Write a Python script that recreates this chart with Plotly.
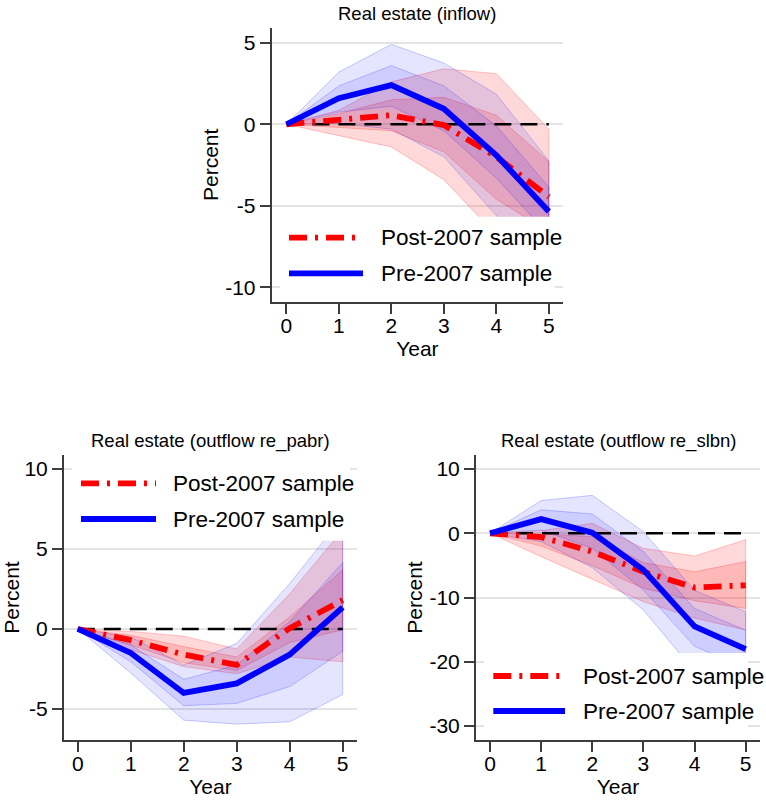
import plotly.graph_objects as go

# ---------------- data ----------------
years = [0, 1, 2, 3, 4, 5]
x_ticktext = ["0", "1", "2", "3", "4", "5"]

titles = ["Real estate (inflow)", "Real estate (outflow re_pabr)", "Real estate (outflow re_slbn)"]
series_names = ["Post-2007 sample", "Pre-2007 sample"]

# Panel 1: inflow
in_post_mean = [0, 0.3, 0.55, -0.05, -2.0, -4.45]
in_post_hi68 = [0, 0.65, 1.5, 1.65, 0.55, -2.3]
in_post_lo68 = [0, -0.2, -0.4, -1.7, -4.6, -6.6]
in_post_hi90 = [0, 0.85, 2.6, 3.4, 3.1, -0.3]
in_post_lo90 = [0, -0.7, -1.4, -3.4, -6.8, -8.6]
in_pre_mean = [0, 1.6, 2.4, 0.95, -1.9, -5.35]
in_pre_hi68 = [0, 2.35, 3.6, 2.35, -0.1, -3.85]
in_pre_lo68 = [0, 0.75, 1.1, -0.4, -3.3, -6.8]
in_pre_hi90 = [0, 3.2, 4.9, 3.75, 1.85, -2.25]
in_pre_lo90 = [0, 0.05, -0.3, -2.0, -5.6, -8.3]
in_yticks = [5, 0, -5, -10]
in_yticktext = ["5", "0", "-5", "-10"]

# Panel 2: outflow re_pabr
pa_post_mean = [0, -0.7, -1.6, -2.25, 0.05, 1.8]
pa_post_hi68 = [0, -0.4, -1.1, -1.75, 0.75, 3.7]
pa_post_lo68 = [0, -1.0, -2.1, -2.6, -0.85, -0.05]
pa_post_hi90 = [0, -0.15, -0.45, -1.25, 2.2, 6.2]
pa_post_lo90 = [0, -1.3, -2.35, -2.8, -1.75, -2.05]
pa_pre_mean = [0, -1.5, -4.0, -3.4, -1.6, 1.35]
pa_pre_hi68 = [0, -1.0, -3.15, -2.25, 0.45, 4.15]
pa_pre_lo68 = [0, -2.05, -4.8, -4.65, -3.6, -1.4]
pa_pre_hi90 = [0, -0.5, -2.25, -0.9, 2.85, 7.0]
pa_pre_lo90 = [0, -2.75, -5.7, -5.95, -5.8, -4.1]
pa_yticks = [10, 5, 0, -5]
pa_yticktext = ["10", "5", "0", "-5"]

# Panel 3: outflow re_slbn
sl_post_mean = [0, -0.6, -2.85, -6.0, -8.45, -8.1]
sl_post_hi68 = [0, -0.1, -0.5, -4.55, -6.0, -4.4]
sl_post_lo68 = [0, -2.0, -5.05, -8.55, -10.5, -11.7]
sl_post_hi90 = [0, 0.4, 1.55, -2.35, -3.55, -1.0]
sl_post_lo90 = [0, -3.65, -7.15, -10.65, -13.2, -15.05]
sl_pre_mean = [0, 2.2, 0.1, -5.7, -14.5, -18.05]
sl_pre_hi68 = [0, 3.65, 3.0, -2.85, -11.7, -15.1]
sl_pre_lo68 = [0, 0.5, -2.35, -8.85, -17.6, -21.0]
sl_pre_hi90 = [0, 5.1, 5.9, 0.25, -8.9, -12.2]
sl_pre_lo90 = [0, -1.3, -5.35, -11.95, -21.5, -24.0]
sl_yticks = [10, 0, -10, -20, -30]
sl_yticktext = ["10", "0", "-10", "-20", "-30"]

# ---------------- layout helpers ----------------
W, H = 766, 802
FONT = "Liberation Sans, Arial, Helvetica, sans-serif"


def fx(p):
    return p / W


def fy(p):
    return 1 - p / H


panels = [
    dict(title=titles[0], xpx=(271.7, 563), ypx=(28, 301.7), xr=(-0.28, 5.27), yr=(-10.88, 5.9),
         yt=in_yticks, ytt=in_yticktext, title_y=13,
         post=(in_post_mean, in_post_lo68, in_post_hi68, in_post_lo90, in_post_hi90),
         pre=(in_pre_mean, in_pre_lo68, in_pre_hi68, in_pre_lo90, in_pre_hi90),
         leg=dict(box=(280, 555, 216.7, 298), ys=(237.7, 273.3), sx=(289, 363), tx=379)),
    dict(title=titles[1], xpx=(64, 357), ypx=(455, 740), xr=(-0.26, 5.27), yr=(-6.94, 10.875),
         yt=pa_yticks, ytt=pa_yticktext, title_y=440.7,
         post=(pa_post_mean, pa_post_lo68, pa_post_hi68, pa_post_lo90, pa_post_hi90),
         pre=(pa_pre_mean, pa_pre_lo68, pa_pre_hi68, pa_pre_lo90, pa_pre_hi90),
         leg=dict(box=(72, 350, 458, 540.7), ys=(483.3, 519), sx=(81, 156), tx=171)),
    dict(title=titles[2], xpx=(476, 760), ypx=(455, 740), xr=(-0.274, 5.28), yr=(-32.18, 12.18),
         yt=sl_yticks, ytt=sl_yticktext, title_y=440.7,
         post=(sl_post_mean, sl_post_lo68, sl_post_hi68, sl_post_lo90, sl_post_hi90),
         pre=(sl_pre_mean, sl_pre_lo68, sl_pre_hi68, sl_pre_lo90, sl_pre_hi90),
         leg=dict(box=(484, 748, 653, 738), ys=(676, 711), sx=(493.3, 565), tx=581)),
]

RED = "#FF0000"
BLUE = "#0000FF"
RED_DASH = "18px,8px,3px,8px"
styles = {
    "post": dict(color=RED, fill="rgba(255,0,0,0.15)", edge="rgba(255,0,0,0.22)", dash=RED_DASH),
    "pre": dict(color=BLUE, fill="rgba(0,0,255,0.10)", edge="rgba(0,0,255,0.20)", dash="solid"),
}
AXIS_COLOR = "#3c3c3c"
GRID_COLOR = "#e4e4e4"

fig = go.Figure()
shapes = []
annotations = []
layout = {}

for i, p in enumerate(panels):
    sfx = "" if i == 0 else str(i + 1)
    xa, ya = "x" + sfx, "y" + sfx

    # bands
    for key in ("post", "pre"):
        mean, lo68, hi68, lo90, hi90 = p[key]
        st = styles[key]
        for lo, hi in ((lo90, hi90), (lo68, hi68)):
            fig.add_trace(go.Scatter(
                x=years + years[::-1], y=hi + lo[::-1], xaxis=xa, yaxis=ya,
                fill="toself", fillcolor=st["fill"], mode="lines",
                line=dict(color=st["edge"], width=1), hoverinfo="skip", showlegend=False))

    # zero reference line
    fig.add_trace(go.Scatter(
        x=[years[0], years[-1]], y=[0, 0], xaxis=xa, yaxis=ya, mode="lines",
        line=dict(color="black", width=2.3, dash="17px,9px"), hoverinfo="skip", showlegend=False))

    # point estimates
    for key, nm in (("post", series_names[0]), ("pre", series_names[1])):
        st = styles[key]
        fig.add_trace(go.Scatter(
            x=years, y=p[key][0], xaxis=xa, yaxis=ya, mode="lines", name=nm,
            line=dict(color=st["color"], width=5.8, dash=st["dash"]), showlegend=False))

    layout["xaxis" + sfx] = dict(
        domain=[fx(p["xpx"][0]), fx(p["xpx"][1])], range=list(p["xr"]), anchor=ya,
        tickvals=years, ticktext=x_ticktext, showline=True, linecolor=AXIS_COLOR, linewidth=2,
        ticks="outside", ticklen=10, tickwidth=2, tickcolor=AXIS_COLOR, showgrid=False,
        zeroline=False, tickfont=dict(size=21, color="black", family=FONT), ticklabelstandoff=-6,
        title=dict(text="Year", font=dict(size=21, color="black", family=FONT), standoff=4))
    layout["yaxis" + sfx] = dict(
        domain=[fy(p["ypx"][1]), fy(p["ypx"][0])], range=list(p["yr"]), anchor=xa,
        tickvals=p["yt"], ticktext=p["ytt"], showline=True, linecolor=AXIS_COLOR, linewidth=2,
        ticks="outside", ticklen=10, tickwidth=2, tickcolor=AXIS_COLOR, showgrid=True,
        gridcolor=GRID_COLOR, gridwidth=1.5, zeroline=False,
        tickfont=dict(size=21, color="black", family=FONT),
        title=dict(text="Percent", font=dict(size=21, color="black", family=FONT), standoff=1))

    # panel title
    annotations.append(dict(
        text=p["title"], x=fx((p["xpx"][0] + p["xpx"][1]) / 2), y=fy(p["title_y"]),
        xref="paper", yref="paper", xanchor="center", yanchor="middle", showarrow=False,
        font=dict(size=18.5, color="black", family=FONT)))

    # legend (drawn in paper coordinates)
    lg = p["leg"]
    bx0, bx1, by0, by1 = lg["box"]
    shapes.append(dict(type="rect", xref="paper", yref="paper", x0=fx(bx0), x1=fx(bx1),
                       y0=fy(by1), y1=fy(by0), fillcolor="white", line=dict(width=0), layer="above"))
    for key, yy, nm in (("post", lg["ys"][0], series_names[0]), ("pre", lg["ys"][1], series_names[1])):
        st = styles[key]
        shapes.append(dict(type="line", xref="paper", yref="paper", x0=fx(lg["sx"][0]), x1=fx(lg["sx"][1]),
                           y0=fy(yy), y1=fy(yy), line=dict(color=st["color"], width=5.8, dash=st["dash"]),
                           layer="above"))
        annotations.append(dict(
            text=nm, x=fx(lg["tx"]), y=fy(yy), xref="paper", yref="paper", xanchor="left",
            yanchor="middle", showarrow=False, font=dict(size=22.5, color="black", family=FONT)))

fig.update_layout(
    width=W, height=H, margin=dict(l=0, r=0, t=0, b=0), paper_bgcolor="white",
    plot_bgcolor="white", showlegend=False, shapes=shapes, annotations=annotations,
    font=dict(family=FONT, color="black"), **layout)

fig.write_html("out.html")
